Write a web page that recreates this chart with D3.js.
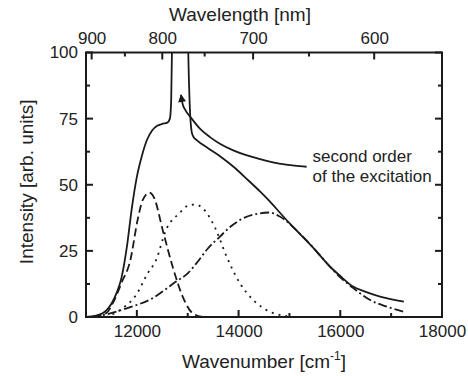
<!DOCTYPE html>
<html>
<head>
<meta charset="utf-8">
<script src="https://cdn.jsdelivr.net/npm/d3@7"></script>
<style>
  body { margin: 0; background: #fff; }
  svg { display: block; font-family: "Liberation Sans", Arial, Helvetica, sans-serif; }
</style>
</head>
<body>
<svg id="chart" width="468" height="376"></svg>
<script>
// wavenumber [cm-1], intensity [arb. units]
const totalSpectrum = [
  [11000, 0], [11200, 0.5], [11400, 2.5], [11500, 5], [11600, 9], [11700, 15],
  [11800, 26], [11900, 41], [12000, 53], [12100, 61], [12200, 67], [12300, 70.5],
  [12400, 72.3], [12500, 73], [12600, 73.5], [12650, 75], [12675, 82], [12690, 100],
  [12705, 130], [12990, 130], [13011, 100], [13040, 80], [13078, 70], [13110, 68.2],
  [13177, 66.9], [13400, 63.8], [13635, 60.8], [13900, 56.8], [14200, 51.5], [14421, 47.5],
  [14600, 44], [14880, 38], [15000, 35.5], [15200, 31.5], [15500, 25.5], [15800, 19],
  [16000, 15.5], [16250, 11.5], [16500, 9.5], [16800, 7.6], [17250, 5.8]
];
const band1 = [ // dashed
  [11150, 0], [11400, 1.5], [11557, 6.4], [11700, 13], [11872, 21.5], [12015, 36.7],
  [12114, 44.2], [12245, 47], [12343, 44.9], [12508, 32.9], [12704, 19], [12901, 7.7],
  [13098, 1.4], [13300, 0]
];
const band2 = [ // dotted
  [11393, 0], [11700, 3], [11983, 8.3], [12213, 16.5], [12377, 21.5], [12573, 32.9],
  [12835, 39.2], [13031, 42.3], [13150, 42.5], [13261, 41.7], [13530, 34.1], [13766, 22.8],
  [14028, 12.7], [14290, 6.4], [14552, 2.6], [14946, 0.3], [15100, 0]
];
const band3 = [ // dash-dot
  [11100, 0], [11400, 1], [11800, 3.3], [12300, 7], [12770, 13.4], [13000, 16.5],
  [13200, 21], [13400, 26], [13635, 30.4], [13800, 33.5], [14030, 36.7], [14420, 39.2],
  [14600, 39.5], [14810, 38], [15200, 31.6], [15500, 25.5], [15800, 19], [16000, 15],
  [16250, 11], [16580, 6.5], [16900, 4], [17250, 2]
];
const secondOrder = [
  [12868, 84], [12900, 80.5], [12946, 78.5], [13078, 75], [13250, 71], [13438, 68],
  [13650, 65.3], [13896, 63], [14150, 61.2], [14421, 59.7], [14800, 58], [15100, 57.2],
  [15338, 56.8]
];

const xMajor = [12000, 14000, 16000, 18000];
const xMinor = [11000, 13000, 15000, 17000];
const yMajor = [0, 25, 50, 75, 100];
const yMinor = [12.5, 37.5, 62.5, 87.5];
const nmMajor = [900, 800, 700, 600];
const nmMinor = [850, 750, 650];

const W = 468, H = 376;
const margin = { top: 52.5, right: 26, bottom: 59, left: 86 };
const width = W - margin.left - margin.right;
const height = H - margin.top - margin.bottom;
const ink = '#1a1a1a';

const svg = d3.select('#chart');
const g = svg.append('g').attr('transform', `translate(${margin.left},${margin.top})`);

const x = d3.scaleLinear().domain([11000, 18000]).range([0, width]);
const y = d3.scaleLinear().domain([0, 100]).range([height, 0]);
const nmToX = nm => x(1e7 / nm);

svg.append('defs').call(defs => {
  defs.append('clipPath').attr('id', 'plot-clip')
    .append('rect').attr('width', width).attr('height', height);
  defs.append('marker')
    .attr('id', 'arrow')
    .attr('viewBox', '0 0 10 10')
    .attr('refX', 9).attr('refY', 5)
    .attr('markerWidth', 11).attr('markerHeight', 8)
    .attr('markerUnits', 'userSpaceOnUse')
    .attr('orient', 'auto-start-reverse')
    .append('path').attr('d', 'M0,0 L10,5 L0,10 z').attr('fill', ink);
});

// tick labels via d3 axes (tick lines drawn separately below)
function labelAxis(axis, transform) {
  const a = g.append('g').attr('transform', transform || null).call(axis);
  a.select('.domain').remove();
  a.selectAll('.tick line').remove();
  a.selectAll('.tick text').attr('fill', '#222').attr('font-size', 17)
    .attr('font-family', '"Liberation Sans", Arial, sans-serif');
}
labelAxis(d3.axisBottom(x).tickValues(xMajor).tickSize(0).tickPadding(8).tickFormat(d3.format('d')),
  `translate(0,${height})`);
labelAxis(d3.axisLeft(y).tickValues(yMajor).tickSize(0).tickPadding(8));
labelAxis(d3.axisTop(x).tickValues(nmMajor.map(nm => 1e7 / nm)).tickSize(0).tickPadding(9)
  .tickFormat(d => Math.round(1e7 / d)));

// inward tick marks
const ticks = g.append('g').attr('stroke', ink).attr('stroke-width', 2);
function xTicks(vals, len) {
  vals.forEach(v => {
    ticks.append('line').attr('x1', x(v)).attr('x2', x(v)).attr('y1', height).attr('y2', height - len);
  });
}
function yTicks(vals, len) {
  vals.forEach(v => {
    ticks.append('line').attr('x1', 0).attr('x2', len).attr('y1', y(v)).attr('y2', y(v));
    ticks.append('line').attr('x1', width).attr('x2', width - len).attr('y1', y(v)).attr('y2', y(v));
  });
}
function topTicks(vals, len) {
  vals.forEach(v => {
    ticks.append('line').attr('x1', nmToX(v)).attr('x2', nmToX(v)).attr('y1', 0).attr('y2', len);
  });
}
xTicks(xMajor, 7);
xTicks(xMinor, 4);
yTicks(yMajor, 7);
yTicks(yMinor, 4);
topTicks(nmMajor, 7);
topTicks(nmMinor, 4);

// frame
g.append('rect')
  .attr('width', width).attr('height', height)
  .attr('fill', 'none').attr('stroke', ink).attr('stroke-width', 2);

const line = d3.line()
  .x(d => x(d[0]))
  .y(d => y(d[1]))
  .curve(d3.curveMonotoneX);

const plot = g.append('g').attr('clip-path', 'url(#plot-clip)');

const series = [
  { data: band1, dash: '8,4' },
  { data: band2, dash: '2,5' },
  { data: band3, dash: '9,3,2,3' },
  { data: totalSpectrum, dash: null },
];
series.forEach(s => {
  plot.append('path')
    .datum(s.data)
    .attr('fill', 'none')
    .attr('stroke', ink)
    .attr('stroke-width', 1.8)
    .attr('stroke-dasharray', s.dash)
    .attr('d', line);
});

// second order annotation line with arrow
plot.append('path')
  .datum(secondOrder)
  .attr('fill', 'none')
  .attr('stroke', ink)
  .attr('stroke-width', 1.8)
  .attr('marker-start', 'url(#arrow)')
  .attr('d', line);

const noteX = x(15338) + 6;
const note = g.append('text')
  .attr('y', y(56.8) - 5)
  .attr('fill', '#222')
  .attr('font-size', 17);
note.append('tspan').attr('x', noteX).text('second order');
note.append('tspan').attr('x', noteX).attr('dy', 20).text('of the excitation');

// axis titles
svg.append('text')
  .attr('x', 240)
  .attr('y', 21)
  .attr('text-anchor', 'middle')
  .attr('fill', '#222')
  .attr('font-size', 19)
  .text('Wavelength [nm]');

const xt = svg.append('text')
  .attr('x', margin.left + width / 2)
  .attr('y', 368)
  .attr('text-anchor', 'middle')
  .attr('fill', '#222')
  .attr('font-size', 19);
xt.append('tspan').text('Wavenumber [cm');
xt.append('tspan').attr('font-size', 12).attr('dy', -8).text('-1');
xt.append('tspan').attr('dy', 8).text(']');

svg.append('text')
  .attr('transform', `translate(33,${margin.top + height / 2 - 3}) rotate(-90)`)
  .attr('text-anchor', 'middle')
  .attr('fill', '#222')
  .attr('font-size', 19)
  .text('Intensity [arb. units]');
</script>
</body>
</html>
